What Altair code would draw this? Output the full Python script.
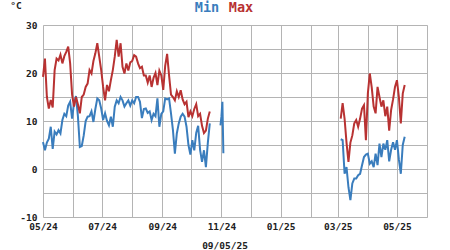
import altair as alt
import pandas as pd

# ---- data (°C) ----
# 2024 season, one reading every 2 days starting 2024-05-01
max_2024 = [19.2, 23.0, 15.0, 12.6, 14.4, 12.8, 20.6, 23.0, 22.6, 23.8,
            22.0, 23.5, 24.4, 25.5, 22.0, 15.5, 13.0, 15.0, 13.5, 11.6,
            15.0, 15.5, 17.1, 17.8, 20.6, 19.9, 22.5, 24.1, 26.2, 23.4,
            20.6, 17.1, 14.3, 17.5, 16.2, 18.5, 20.6, 23.4, 26.9, 23.4,
            26.2, 21.3, 19.9, 22.0, 20.5, 22.2, 22.5, 23.7, 23.4, 22.0,
            21.0, 21.3, 19.5, 19.5, 18.0, 19.5, 17.1, 19.0, 20.0, 17.5,
            20.5, 19.5, 16.5, 21.5, 24.0, 19.5, 15.5, 15.0, 14.3, 16.2,
            15.0, 16.4, 14.5, 13.5, 14.0, 10.8, 12.0, 11.0, 12.5, 13.5,
            11.0, 11.5, 9.0, 7.5, 8.0, 10.5, 12.0]
min_2024 = [5.6, 3.9, 5.5, 6.3, 8.8, 4.2, 7.8, 7.2, 8.1, 7.4,
            10.2, 11.5, 11.0, 13.2, 14.0, 10.5, 13.8, 15.2, 11.0, 4.6,
            4.8, 7.0, 10.0, 10.9, 11.0, 12.0, 9.8, 12.5, 14.7, 14.3,
            12.6, 10.2, 11.6, 10.0, 9.1, 10.9, 8.8, 13.0, 14.3, 13.7,
            15.0, 14.3, 13.0, 13.7, 14.3, 13.2, 14.3, 13.7, 15.0, 15.0,
            14.0, 10.6, 12.5, 12.6, 11.7, 12.0, 10.2, 11.5, 11.0, 14.7,
            8.8, 11.5, 12.0, 14.7, 14.5, 14.7, 11.6, 8.1, 3.2, 7.4,
            9.5, 10.9, 11.5, 10.9, 8.8, 5.0, 3.0, 6.0, 3.9, 7.5,
            9.0, 4.0, 1.5, 3.9, 0.4, 5.5, 9.5]
# short daily min fragment starting 2024-10-31
min_nov = [9.1, 10.9, 14.0, 3.3]
# 2025 season, one reading every 2 days starting 2025-03-04
max_2025 = [10.5, 13.7, 10.5, 5.5, 1.5, 5.5, 7.0, 9.5, 10.2, 8.8,
            10.5, 12.6, 13.3, 6.0, 15.7, 19.9, 17.0, 13.0, 11.6, 17.1,
            15.0, 13.0, 14.3, 11.0, 13.0, 8.0, 12.3, 14.5, 17.1, 18.5,
            15.0, 9.5, 15.7, 17.5]
min_2025 = [6.2, 6.0, -1.0, 0.4, -3.8, -6.5, -3.0, -2.0, -2.0, -1.3,
            -1.0, 0.8, 2.5, 3.0, 3.2, 1.1, 1.6, 0.4, 3.2, 0.8,
            5.3, 2.5, 5.3, 4.0, 6.0, 1.6, 4.0, 5.6, 4.0, 6.0,
            2.0, -1.0, 5.0, 6.7]

series_names = ["Min", "Max"]
series_colors = ["#3a7dbd", "#b83232"]
x_title = "09/05/25"
unit_label = "°C"

def frame(start, vals, series, seg, freq):
    return pd.DataFrame({
        "date": pd.date_range(start, periods=len(vals), freq=freq),
        "temp": vals, "series": series, "seg": seg})

df = pd.concat([
    frame("2024-05-01", min_2024, "Min", "min_a", "2D"),
    frame("2024-10-31", min_nov, "Min", "min_b", "D"),
    frame("2025-03-04", min_2025, "Min", "min_c", "2D"),
    frame("2024-05-01", max_2024, "Max", "max_a", "2D"),
    frame("2025-03-04", max_2025, "Max", "max_c", "2D"),
], ignore_index=True)
df["order"] = df["series"].map({"Min": 0, "Max": 1})

FONT = "DejaVu Sans Mono"
GRID = "#b4b4b4"

month_ticks = []
for i in range(14):
    y = 2024 + (4 + i) // 12
    m = (4 + i) % 12 + 1
    month_ticks.append(alt.DateTime(year=y, month=m, date=1))

lines = alt.Chart(df).mark_line(strokeWidth=2).encode(
    x=alt.X("date:T",
            scale=alt.Scale(domain=[month_ticks[0], month_ticks[-1]]),
            axis=alt.Axis(values=month_ticks,
                          labelExpr="month(datum.value) % 2 == 0 ? timeFormat(datum.value, '%m/%y') : ''",
                          grid=True, gridColor=GRID, gridWidth=1, ticks=False,
                          domain=False, labelFont=FONT, labelFontSize=9.5,
                          labelFontWeight="bold", labelColor="#222",
                          labelPadding=4, labelOverlap=False, labelFlush=False,
                          title=x_title, titleFont=FONT, titleFontSize=9.5,
                          titleFontWeight="bold", titleColor="#222",
                          titlePadding=10, titleX=181.5, titleAlign="center")),
    y=alt.Y("temp:Q",
            scale=alt.Scale(domain=[-10, 30], nice=False, zero=False),
            axis=alt.Axis(values=list(range(-10, 31, 5)),
                          labelExpr="datum.value % 10 == 0 ? '' + datum.value : ''",
                          grid=True, gridColor=GRID, gridWidth=1, ticks=False,
                          domain=False, labelFont=FONT, labelFontSize=9.5,
                          labelFontWeight="bold", labelColor="#222",
                          labelPadding=6, labelOverlap=False, labelFlush=False,
                          title=None)),
    color=alt.Color("series:N", scale=alt.Scale(domain=series_names, range=series_colors),
                    legend=None),
    detail="seg:N",
    order=alt.Order("order:Q"),
)

title_min = alt.Chart(pd.DataFrame({"t": [series_names[0]]})).mark_text(
    font=FONT, fontSize=13.5, fontWeight="bold", color=series_colors[0], align="center",
    baseline="middle").encode(text="t:N", x=alt.value(164), y=alt.value(-17))
title_max = alt.Chart(pd.DataFrame({"t": [series_names[1]]})).mark_text(
    font=FONT, fontSize=13.5, fontWeight="bold", color=series_colors[1], align="center",
    baseline="middle").encode(text="t:N", x=alt.value(198), y=alt.value(-17))
unit = alt.Chart(pd.DataFrame({"t": [unit_label]})).mark_text(
    font=FONT, fontSize=9.5, fontWeight="bold", color="#222", align="center",
    baseline="middle").encode(text="t:N", x=alt.value(-27), y=alt.value(-19))

chart = alt.layer(lines, title_min, title_max, unit).properties(
    width=384, height=192,
    autosize=alt.AutoSizeParams(type="none"),
    padding={"left": 43, "top": 25, "right": 23, "bottom": 33},
).configure_view(stroke=GRID, strokeWidth=1).configure(background="white")

chart.save("out.html", embed_options={"renderer": "svg", "actions": False})
